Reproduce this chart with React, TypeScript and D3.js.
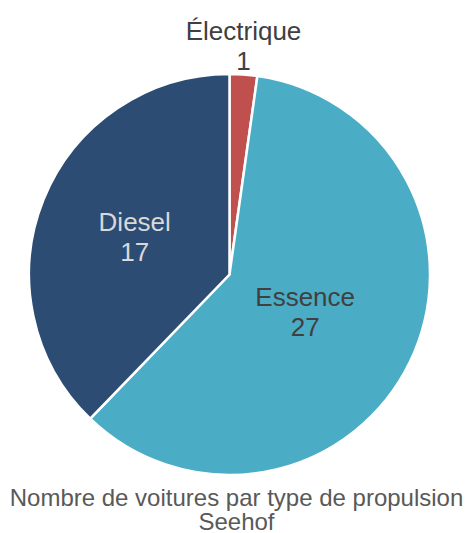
import React from "react";
import * as d3 from "d3";

const categories = ["Électrique", "Essence", "Diesel"];
const values = [1, 27, 17];
const colors = ["#c0504d", "#4bacc6", "#2c4c74"];
const labelColors = ["#404040", "#404040", "#d9d9d9"];
const titleLines = ["Nombre de voitures par type de propulsion", "Seehof"];

export default function App() {
  const W = 469, H = 533;
  const cx = 229.5, cy = 274.5, r = 200.5;
  const pie = d3.pie<number>().sort(null).startAngle(0).endAngle(2 * Math.PI);
  const arcs = pie(values);
  const arc = d3.arc<d3.PieArcDatum<number>>().innerRadius(0).outerRadius(r);
  const labelFrac = [1.0, 0.42, 0.51];
  const fs = 26;
  const lineGap = 30;
  return (
    <svg width={W} height={H} style={{ position: "absolute", left: 0, top: 0, fontFamily: "'Liberation Sans', Arial, sans-serif" }}>
      <rect width={W} height={H} fill="#fff" />
      <g transform={`translate(${cx},${cy})`}>
        {arcs.map((a, i) => (
          <path key={i} d={arc(a) || ""} fill={colors[i]} stroke="#fff" strokeWidth={2.5} strokeLinejoin="miter" />
        ))}
        {arcs.map((a, i) => {
          const mid = (a.startAngle + a.endAngle) / 2;
          let x: number, y: number;
          if (i === 0) {
            x = Math.sin(mid) * r;
            y = -r - 28;
          } else {
            const lr = r * labelFrac[i];
            x = Math.sin(mid) * lr;
            y = -Math.cos(mid) * lr;
          }
          return (
            <text key={i} textAnchor="middle" fill={labelColors[i]} fontSize={fs}>
              <tspan x={x} y={y - lineGap / 2 + 9.3}>{categories[i]}</tspan>
              <tspan x={x} y={y + lineGap / 2 + 9.3}>{values[i]}</tspan>
            </text>
          );
        })}
      </g>
      <text textAnchor="middle" fill="#595959" fontSize={24}>
        {titleLines.map((t, i) => (
          <tspan key={i} x={W / 2 + 2} y={506 + i * 24}>{t}</tspan>
        ))}
      </text>
    </svg>
  );
}
